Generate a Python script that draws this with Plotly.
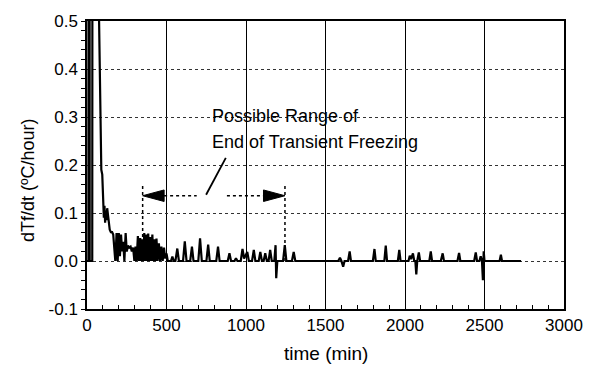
import plotly.graph_objects as go

# ---- data (time in min, dTf/dt in degC/hour) ----
time_min = [
    0, 9, 11, 15, 17, 33, 36, 70, 76, 90, 96, 102, 106, 110, 114, 118, 122, 127, 132, 138, 143, 150, 158, 165,
    172, 178, 186, 193, 200, 207, 214, 221, 228, 235, 243, 250, 258, 266, 274, 282, 290, 298, 305, 312, 320, 327,
    335, 341, 347, 353, 360, 366, 372, 378, 385, 391, 398, 404, 411, 417, 424, 430, 437, 444, 452, 460, 468, 476,
    484, 492, 500, 508,
    528, 537, 546, 556, 568, 578, 604, 615, 626, 649, 660, 670, 700, 711, 722, 751, 762, 772, 813, 824, 834,
    885, 896, 906, 928, 937, 946, 967, 978, 988, 1008, 1018, 1038, 1049, 1059, 1080, 1090, 1100, 1111, 1121,
    1131, 1142, 1152, 1162, 1178, 1186, 1190, 1197, 1233, 1244, 1254, 1289, 1300, 1310,
    1580, 1591, 1600, 1611, 1620, 1642, 1652, 1660, 1798, 1808, 1816, 1870, 1879, 1887, 1955, 1964, 1972,
    2022, 2030, 2038, 2050, 2058, 2065, 2071, 2077, 2087, 2095, 2153, 2162, 2170, 2225, 2237, 2245,
    2330, 2340, 2348, 2435, 2445, 2453, 2468, 2476, 2484, 2490, 2495, 2500, 2595, 2603, 2610, 2730,
]
dtf_dt = [
    0, 0, 2.0, 2.0, 0, 0, 2.0, 2.0, 0.5, 0.19, 0.18, 0.12, 0.09, 0.115, 0.08, 0.105, 0.085, 0.11, 0.09, 0.075, 0.065, 0.06, 0.06, 0.055,
    0.03, 0.0, 0.058, 0.0, 0.058, 0.01, 0.055, 0.02, 0.04, 0.0, 0.058, 0.02, 0.032, 0.028, 0.03, 0.02, 0.028, 0.0, 0.03, 0.0, 0.052, 0.0,
    0.048, 0.0, 0.045, 0.0, 0.058, 0.0, 0.055, 0.0, 0.057, 0.0, 0.05, 0.0, 0.055, 0.0, 0.045, 0.0, 0.047, 0.0, 0.037, 0.0, 0.03, 0.0,
    0.028, 0.005, 0.016, 0.0,
    0, 0.009, 0, 0, 0.026, 0, 0, 0.041, 0, 0, 0.03, 0, 0, 0.047, 0, 0, 0.034, 0, 0, 0.03, 0,
    0, 0.016, 0, 0, 0.006, 0, 0, 0.025, 0.005, 0.019, 0, 0, 0.023, 0, 0, 0.019, 0, 0, 0.016,
    0, 0, 0.023, 0, 0, 0.033, -0.036, 0, 0, 0.033, 0, 0, 0.019, 0,
    0, 0.007, 0, -0.012, 0, 0, 0.02, 0, 0, 0.025, 0, 0, 0.032, 0, 0, 0.023, 0,
    0, 0.011, 0.004, 0.016, 0, 0, -0.028, 0, 0.018, 0, 0, 0.02, 0, 0, 0.016, 0,
    0, 0.017, 0, 0, 0.018, 0, 0, 0.01, 0, -0.04, 0.02, 0, 0, 0.013, 0, 0,
]

x_ticks = [0, 500, 1000, 1500, 2000, 2500, 3000]
x_ticklabels = ["0", "500", "1000", "1500", "2000", "2500", "3000"]
y_ticks = [-0.1, 0.0, 0.1, 0.2, 0.3, 0.4, 0.5]
y_ticklabels = ["-0.1", "0.0", "0.1", "0.2", "0.3", "0.4", "0.5"]

# annotation: possible range of end of transient freezing
range_start, range_end = 350, 1245
range_arrow_y = 0.136
range_mark_top = 0.157
shaft_gap = (690, 880)
leader = ((749, 0.138), (873, 0.215))
label_lines = ["Possible Range of", "End of Transient Freezing"]

FONT = "Liberation Sans, Arial, Helvetica, sans-serif"

fig = go.Figure()
fig.add_trace(go.Scatter(x=time_min, y=dtf_dt, mode="lines",
                         line=dict(color="black", width=2.2), showlegend=False))

shapes = []
dot = dict(color="black", width=1.5, dash="dot")
for xv in (range_start, range_end):
    shapes.append(dict(type="line", xref="x", yref="y", x0=xv, x1=xv, y0=0, y1=range_mark_top, line=dot))
head_len = 135   # min
head_half = 0.012
shapes.append(dict(type="line", xref="x", yref="y", x0=range_start + head_len, x1=shaft_gap[0],
                   y0=range_arrow_y, y1=range_arrow_y, line=dot))
shapes.append(dict(type="line", xref="x", yref="y", x0=shaft_gap[1], x1=range_end - head_len,
                   y0=range_arrow_y, y1=range_arrow_y, line=dot))
# arrowheads
ls, le = range_start, range_end
shapes.append(dict(type="path", xref="x", yref="y",
                   path=f"M {ls},{range_arrow_y} L {ls+head_len},{range_arrow_y+head_half} "
                        f"L {ls+head_len},{range_arrow_y-head_half} Z",
                   fillcolor="black", line=dict(color="black", width=1)))
shapes.append(dict(type="path", xref="x", yref="y",
                   path=f"M {le},{range_arrow_y} L {le-head_len},{range_arrow_y+head_half} "
                        f"L {le-head_len},{range_arrow_y-head_half} Z",
                   fillcolor="black", line=dict(color="black", width=1)))
shapes.append(dict(type="line", xref="x", yref="y", x0=leader[0][0], y0=leader[0][1],
                   x1=leader[1][0], y1=leader[1][1], line=dict(color="black", width=1.8)))

annotations = [
    dict(x=774, y=0.303, xref="x", yref="y", text=label_lines[0], showarrow=False,
         xanchor="left", yanchor="middle", font=dict(family=FONT, size=18, color="black")),
    dict(x=774, y=0.247, xref="x", yref="y", text=label_lines[1], showarrow=False,
         xanchor="left", yanchor="middle", font=dict(family=FONT, size=18, color="black")),
    dict(x=0.5, y=-0.155, xref="paper", yref="paper", text="time (min)", showarrow=False,
         xanchor="center", yanchor="middle", font=dict(family=FONT, size=19, color="black")),
    dict(x=-0.125, y=0.449, xref="paper", yref="paper", text="dTf/dt (\u00baC/hour)", showarrow=False,
         textangle=-90, xanchor="center", yanchor="middle", font=dict(family=FONT, size=18, color="black")),
]

fig.update_layout(
    width=595, height=370,
    margin=dict(l=87, r=23, t=13, b=61),
    paper_bgcolor="white", plot_bgcolor="white",
    font=dict(family=FONT, size=17, color="black"),
    shapes=shapes, annotations=annotations,
    showlegend=False,
)
fig.update_xaxes(
    range=[0, 3000], tickmode="array", tickvals=x_ticks, ticktext=x_ticklabels,
    ticks="inside", ticklen=5, tickwidth=1.2, tickcolor="black",
    showline=True, mirror=True, linecolor="black", linewidth=1.5,
    showgrid=True, gridcolor="black", gridwidth=1, zeroline=False,
    minor=dict(dtick=100, tick0=0, ticks="inside", ticklen=4, tickwidth=1.2, tickcolor="black", showgrid=False),
    tickfont=dict(family=FONT, size=17, color="black"),
)
fig.update_yaxes(
    range=[-0.1, 0.5], tickmode="array", tickvals=y_ticks, ticktext=y_ticklabels,
    ticks="outside", ticklen=4, tickwidth=1.2, tickcolor="black",
    showline=True, mirror=True, linecolor="black", linewidth=1.5,
    showgrid=True, gridcolor="#333333", gridwidth=1, griddash="dot", zeroline=False,
    minor=dict(dtick=0.02, tick0=0, ticks="outside", ticklen=4, tickwidth=1.2, tickcolor="black", showgrid=False),
    tickfont=dict(family=FONT, size=17, color="black"),
)

fig.write_html("out.html")
